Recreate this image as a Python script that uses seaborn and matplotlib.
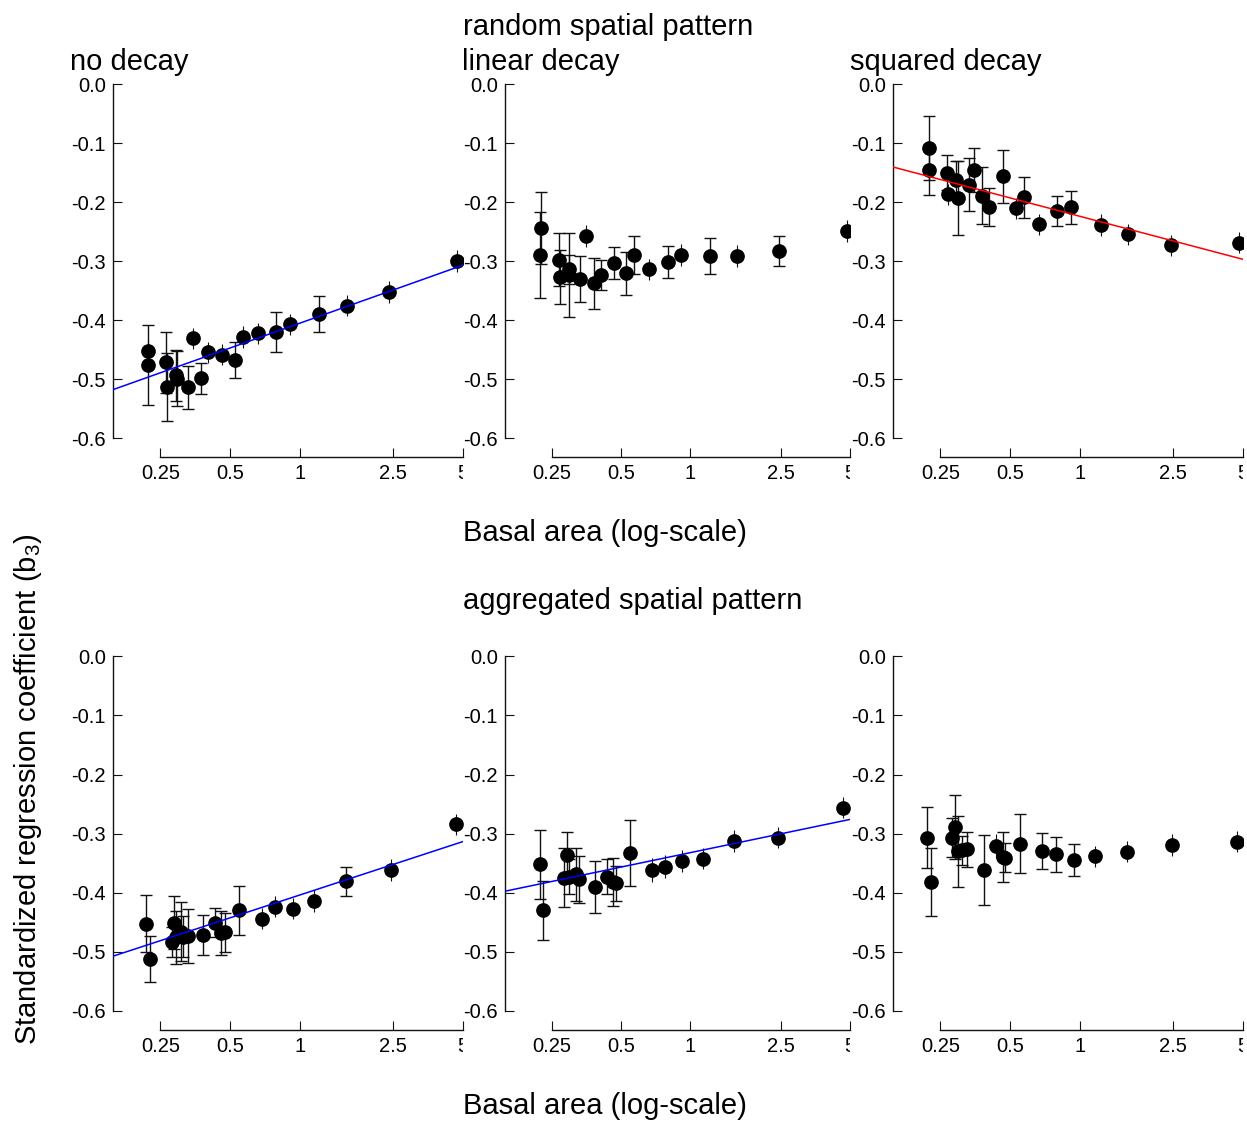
import numpy as np
import pandas as pd
import matplotlib
matplotlib.use("Agg")
import matplotlib.pyplot as plt
import seaborn as sns
from matplotlib.transforms import Bbox, TransformedBbox

# ---------------- data ----------------
# random spatial pattern
rand_none_x = [0.221, 0.221, 0.264, 0.268, 0.291, 0.295, 0.346, 0.328, 0.373, 0.402,
               0.462, 0.521, 0.564, 0.655, 0.784, 0.904, 1.205, 1.587, 2.40, 4.73]
rand_none_y = [-0.4525, -0.476, -0.472, -0.514, -0.494, -0.4995, -0.431, -0.514, -0.499, -0.455,
               -0.459, -0.468, -0.429, -0.4225, -0.421, -0.407, -0.390, -0.376, -0.3525, -0.300]
rand_none_err = [0.018, 0.068, 0.051, 0.058, 0.044, 0.047, 0.018, 0.036, 0.026, 0.018,
                 0.018, 0.031, 0.018, 0.018, 0.034, 0.018, 0.031, 0.018, 0.018, 0.018]

rand_lin_x = [0.224, 0.223, 0.269, 0.271, 0.296, 0.297, 0.353, 0.333, 0.382, 0.409,
              0.469, 0.526, 0.571, 0.666, 0.800, 0.918, 1.225, 1.61, 2.44, 4.85]
rand_lin_y = [-0.2446, -0.290, -0.298, -0.3266, -0.314, -0.3237, -0.2576, -0.3305, -0.3379, -0.3237,
              -0.3028, -0.321, -0.2898, -0.314, -0.3011, -0.2898, -0.2915, -0.2915, -0.283, -0.249]
rand_lin_err = [0.061, 0.073, 0.045, 0.046, 0.025, 0.071, 0.018, 0.039, 0.043, 0.025,
                0.027, 0.036, 0.032, 0.018, 0.027, 0.018, 0.030, 0.018, 0.026, 0.018]

rand_sq_x = [0.224, 0.223, 0.266, 0.270, 0.292, 0.298, 0.330, 0.349, 0.378, 0.406,
             0.466, 0.526, 0.569, 0.664, 0.795, 0.915, 1.221, 1.608, 2.44, 4.79]
rand_sq_y = [-0.108, -0.1458, -0.150, -0.187, -0.1627, -0.1927, -0.1707, -0.1458, -0.1893, -0.208,
             -0.1565, -0.2107, -0.192, -0.2378, -0.2153, -0.209, -0.239, -0.2548, -0.2734, -0.269]
rand_sq_err = [0.054, 0.043, 0.030, 0.018, 0.032, 0.063, 0.045, 0.037, 0.048, 0.032,
               0.045, 0.018, 0.035, 0.018, 0.025, 0.028, 0.018, 0.018, 0.018, 0.018]

# aggregated spatial pattern
agg_none_x = [0.217, 0.225, 0.286, 0.280, 0.292, 0.306, 0.314, 0.327, 0.380, 0.431,
              0.455, 0.472, 0.545, 0.68, 0.78, 0.927, 1.148, 1.567, 2.46, 4.67]
agg_none_y = [-0.4523, -0.5115, -0.4506, -0.4834, -0.4755, -0.466, -0.474, -0.473, -0.471, -0.4506,
              -0.4675, -0.4665, -0.4298, -0.4438, -0.4235, -0.427, -0.414, -0.3807, -0.3616, -0.2843]
agg_none_err = [0.048, 0.039, 0.045, 0.025, 0.045, 0.050, 0.035, 0.045, 0.034, 0.025,
                0.037, 0.033, 0.042, 0.018, 0.018, 0.018, 0.018, 0.025, 0.018, 0.018]

agg_lin_x = [0.222, 0.229, 0.290, 0.283, 0.296, 0.318, 0.329, 0.385, 0.435, 0.463,
             0.478, 0.549, 0.681, 0.78, 0.927, 1.14, 1.56, 2.43, 4.65]
agg_lin_y = [-0.352, -0.4293, -0.3367, -0.3745, -0.3728, -0.3689, -0.3773, -0.390, -0.3728, -0.382,
             -0.384, -0.3333, -0.3616, -0.3558, -0.3464, -0.3424, -0.3125, -0.3068, -0.256]
agg_lin_err = [0.058, 0.050, 0.040, 0.050, 0.030, 0.045, 0.040, 0.044, 0.030, 0.040,
               0.030, 0.056, 0.020, 0.020, 0.018, 0.018, 0.018, 0.018, 0.018]

agg_sq_x = [0.219, 0.228, 0.289, 0.281, 0.296, 0.310, 0.326, 0.384, 0.435, 0.464,
            0.475, 0.551, 0.686, 0.787, 0.936, 1.155, 1.58, 2.48, 4.73]
agg_sq_y = [-0.3068, -0.382, -0.2882, -0.3068, -0.3294, -0.3283, -0.3266, -0.3616, -0.321, -0.3396,
            -0.3406, -0.3169, -0.3294, -0.335, -0.3452, -0.3384, -0.3305, -0.3193, -0.3135]
agg_sq_err = [0.052, 0.057, 0.054, 0.033, 0.060, 0.025, 0.030, 0.059, 0.020, 0.043,
              0.025, 0.050, 0.030, 0.030, 0.027, 0.018, 0.018, 0.018, 0.018]

# fitted lines: b3 = intercept + slope * log2(basal area)
line_rand_none = (-0.405, 0.0422)
line_rand_sq = (-0.2245, -0.0313)
line_agg_none = (-0.4034, 0.0388)
line_agg_lin = (-0.3323, 0.0243)

panel_titles = ["no decay", "linear decay", "squared decay"]
row_titles = ["random spatial pattern", "aggregated spatial pattern"]
x_ticks = [0.25, 0.5, 1, 2.5, 5]
x_tick_labels = ["0.25", "0.5", "1", "2.5", "5"]
y_ticks = [0.0, -0.1, -0.2, -0.3, -0.4, -0.5, -0.6]
x_label = "Basal area (log-scale)"
y_label = "Standardized regression coefficient (b$_{3}$)"

panels = [
    [(rand_none_x, rand_none_y, rand_none_err, line_rand_none, "blue"),
     (rand_lin_x, rand_lin_y, rand_lin_err, None, None),
     (rand_sq_x, rand_sq_y, rand_sq_err, line_rand_sq, "red")],
    [(agg_none_x, agg_none_y, agg_none_err, line_agg_none, "blue"),
     (agg_lin_x, agg_lin_y, agg_lin_err, line_agg_lin, "blue"),
     (agg_sq_x, agg_sq_y, agg_sq_err, None, None)],
]

# ---------------- style ----------------
sns.set_theme(style="ticks")
plt.rcParams["font.family"] = ["Liberation Sans", "DejaVu Sans"]
plt.rcParams["mathtext.fontset"] = "custom"
plt.rcParams["mathtext.rm"] = "Liberation Sans"
plt.rcParams["mathtext.it"] = "Liberation Sans:italic"
plt.rcParams["axes.unicode_minus"] = False
plt.rcParams["text.color"] = "black"
plt.rcParams["axes.labelcolor"] = "black"
plt.rcParams["xtick.color"] = "black"
plt.rcParams["ytick.color"] = "black"

W, H = 1247, 1122
fig = plt.figure(figsize=(W / 100, H / 100), dpi=100)

XLIM = (0.15625, 5.0)
YLIM = (-0.6322, 0.024)
panel_left = [113, 505, 893]
panel_w = [350, 345, 350]
row_bottom = [457, 1030]
row_ppu = [590, 591]
ink = "#111111"

for r in range(2):
    for c in range(3):
        xs, ys, es, coef, lc = panels[r][c]
        hpx = (YLIM[1] - YLIM[0]) * row_ppu[r]
        ax = fig.add_axes([panel_left[c] / W, (H - row_bottom[r]) / H,
                           panel_w[c] / W, hpx / H])
        ax.set_facecolor("none")
        ax.set_xscale("log")
        ax.set_xlim(*XLIM)
        ax.set_ylim(*YLIM)

        df = pd.DataFrame({"x": xs, "y": ys, "err": es})
        big = df[df["err"] > 0.02]
        small = df[df["err"] <= 0.02]
        ax.errorbar(big["x"], big["y"], yerr=big["err"], fmt="none",
                    ecolor=ink, elinewidth=1.0, capsize=4.5, capthick=1.0, zorder=2)
        ax.errorbar(small["x"], small["y"], yerr=small["err"], fmt="none",
                    ecolor=ink, elinewidth=0.8, capsize=0, zorder=2)
        sns.scatterplot(data=df, x="x", y="y", ax=ax, color="black", s=112,
                        edgecolor="black", linewidth=0, zorder=3, legend=False)
        if coef is not None:
            a, b = coef
            ax.axline((1.0, a), (2.0, a + b), color=lc, lw=1.1, zorder=4)

        ax.set_xticks(x_ticks)
        ax.set_xticklabels(x_tick_labels)
        ax.xaxis.set_minor_locator(matplotlib.ticker.NullLocator())
        ax.set_yticks(y_ticks)
        ax.set_yticklabels([f"{v:.1f}" for v in y_ticks])
        ax.set_xlabel("")
        ax.set_ylabel("")
        ax.tick_params(direction="in", length=6.5, width=0.8, colors=ink,
                       labelsize=14.5, labelcolor="black")
        ax.tick_params(axis="y", pad=5)
        ax.tick_params(axis="x", pad=5)
        for s in ["top", "right"]:
            ax.spines[s].set_visible(False)
        ax.spines["left"].set_bounds(-0.6, 0.0)
        ax.spines["bottom"].set_bounds(0.25, 5.0)
        for s in ["left", "bottom"]:
            ax.spines[s].set_linewidth(1.0)
            ax.spines[s].set_color(ink)

        clip = TransformedBbox(Bbox.from_extents(-1.0, -1.0, 1.0, 2.0), ax.transAxes)
        for t in ax.xaxis.get_major_ticks():
            t.label1.set_clip_box(clip)
            t.label1.set_clip_on(True)

        # panel titles (top row only)
        if r == 0:
            title_x = panel_left[c] - 43
            fig.text(title_x / W, 1 - 62 / H, panel_titles[c],
                     fontsize=21, ha="left", va="center", color="black")

fig.text(463 / W, 1 - 27 / H, row_titles[0], fontsize=21, ha="left", va="center")
fig.text(463 / W, 1 - 601 / H, row_titles[1], fontsize=21, ha="left", va="center")
fig.text(463 / W, 1 - 533 / H, x_label, fontsize=21, ha="left", va="center")
fig.text(463 / W, 1 - 1106 / H, x_label, fontsize=21, ha="left", va="center")
fig.text(28 / W, 1 - 789 / H, y_label, fontsize=21, ha="center", va="center",
         rotation=90)

fig.savefig("out.png", dpi=100)
